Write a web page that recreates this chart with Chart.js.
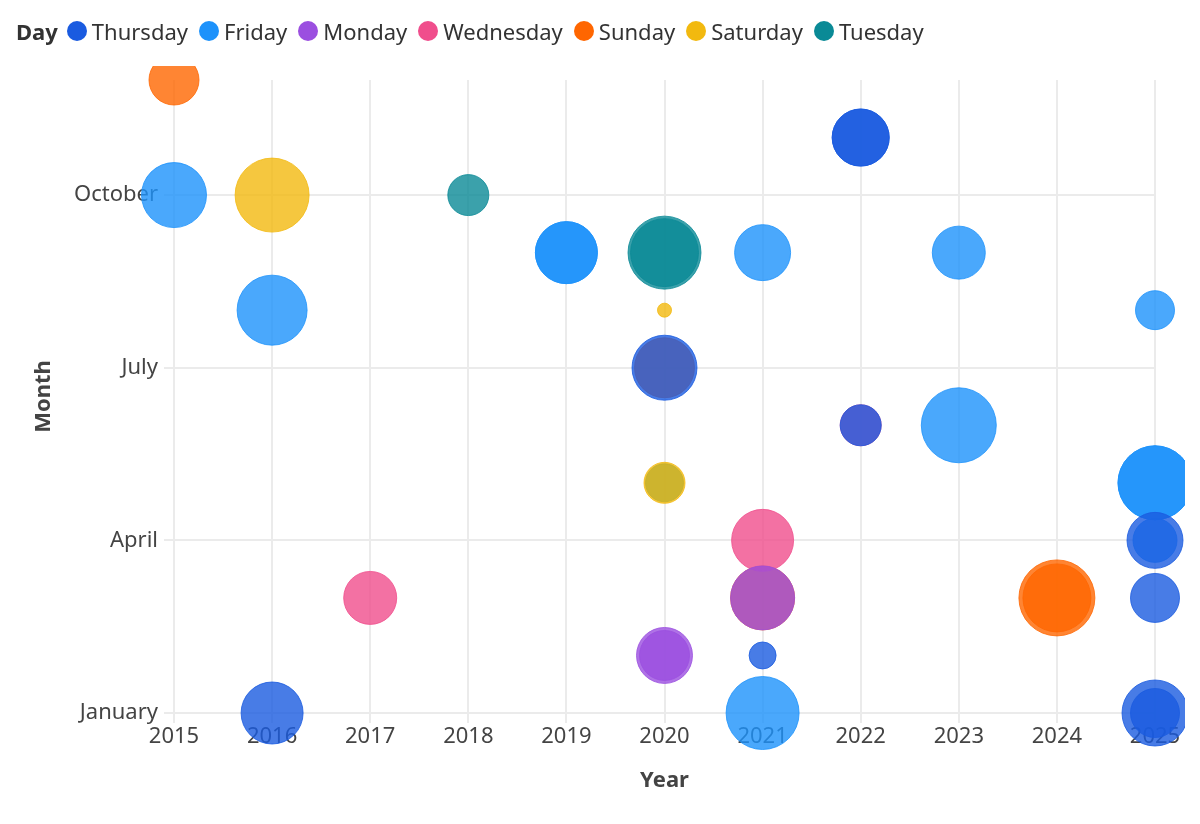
<!DOCTYPE html>
<html>
<head>
<meta charset="utf-8">
<title>Day by Month and Year</title>
<script src="https://cdn.jsdelivr.net/npm/chart.js@4.4.1/dist/chart.umd.min.js"></script>
<style>
    html, body { margin: 0; padding: 0; background: #fff; }
    #wrap { position: relative; width: 1200px; height: 824px; }
    #legend {
        position: absolute; left: 16px; top: 16px;
        display: flex; align-items: center;
        font-family: "Noto Sans", sans-serif; font-size: 22px; color: #333;
        line-height: 30px;
    }
    #legend .title { font-weight: bold; margin-right: 9px; }
    #legend .item { display: flex; align-items: center; margin-right: 11px; }
    #legend .dot { width: 20px; height: 20px; border-radius: 50%; margin-right: 5px; }
</style>
</head>
<body>
<div id="wrap">
    <canvas id="chart" width="1200" height="824"></canvas>
    <div id="legend"><span class="title">Day</span></div>
</div>
<script>
// Categorías y colores (orden de la leyenda)
const days = ['Thursday', 'Friday', 'Monday', 'Wednesday', 'Sunday', 'Saturday', 'Tuesday'];
const dayColors = ['#1a5be0', '#1d92fb', '#9b4fe0', '#f04e8c', '#ff6600', '#f2b90f', '#0a8a96'];

// Puntos por día: [año, mes, tamaño]
const thursday = [[2022, 11, 28.5], [2022, 11, 28.5], [2020, 7, 32.5], [2022, 6, 20.5], [2025, 4, 28], [2025, 3, 24.5], [2021, 2, 13.5], [2016, 1, 31], [2025, 1, 33], [2025, 1, 24.5]];
const friday = [[2015, 10, 32.5], [2019, 9, 31], [2019, 9, 31], [2021, 9, 28], [2023, 9, 26.5], [2016, 8, 35], [2025, 8, 19.5], [2023, 6, 37.5], [2025, 5, 37], [2025, 5, 37], [2025, 4, 22], [2021, 1, 36.5]];
const monday = [[2021, 3, 32], [2020, 2, 28], [2020, 2, 25]];
const wednesday = [[2021, 4, 31], [2017, 3, 26.5], [2022, 6, 20.5]];
const sunday = [[2015, 12, 25], [2024, 3, 38], [2024, 3, 34], [2020, 7, 30], [2021, 3, 32]];
const saturday = [[2016, 10, 37], [2020, 8, 7], [2020, 5, 20.5]];
const tuesday = [[2018, 10, 20.5], [2020, 9, 36.5], [2020, 9, 34], [2020, 5, 19]];
const dayPoints = [thursday, friday, monday, wednesday, sunday, saturday, tuesday];

// Ejes
const yearTicks = [2015, 2016, 2017, 2018, 2019, 2020, 2021, 2022, 2023, 2024, 2025];
const monthTicks = [1, 4, 7, 10];
const monthNames = ['January', 'February', 'March', 'April', 'May', 'June', 'July',
    'August', 'September', 'October', 'November', 'December'];

function withAlpha(hex, a) {
    const n = parseInt(hex.slice(1), 16);
    return `rgba(${(n >> 16) & 255}, ${(n >> 8) & 255}, ${n & 255}, ${a})`;
}

// Leyenda en HTML con el título "Day" en línea
const legend = document.getElementById('legend');
days.forEach((d, i) => {
    const item = document.createElement('span');
    item.className = 'item';
    const dot = document.createElement('span');
    dot.className = 'dot';
    dot.style.background = dayColors[i];
    const txt = document.createElement('span');
    txt.textContent = d;
    item.appendChild(dot);
    item.appendChild(txt);
    legend.appendChild(item);
});

const tickFont = { family: '"Noto Sans", sans-serif', size: 22 };
const titleFont = { family: '"Noto Sans", sans-serif', size: 22, weight: 'bold' };

const datasets = days.map((d, i) => ({
    label: d,
    data: dayPoints[i].map(p => ({ x: p[0], y: p[1], r: p[2] })),
    backgroundColor: withAlpha(dayColors[i], 0.8),
    borderColor: withAlpha(dayColors[i], 0.8),
    borderWidth: 1,
    clip: { left: 40, top: 14, right: 30, bottom: 60 }
}));

new Chart(document.getElementById('chart'), {
    type: 'bubble',
    data: { datasets },
    options: {
        responsive: false,
        animation: false,
        events: [],
        layout: { padding: { left: 28, top: 80, right: 45, bottom: 30 } },
        plugins: {
            legend: { display: false },
            tooltip: { enabled: false }
        },
        scales: {
            x: {
                type: 'linear',
                min: 2015,
                max: 2025,
                afterBuildTicks: s => { s.ticks = yearTicks.map(v => ({ value: v })); },
                afterFit: s => { s.height = 81; },
                ticks: { callback: v => String(v), font: tickFont, color: '#444', padding: 1, maxRotation: 0 },
                grid: { color: '#ebebeb', lineWidth: 2, tickLength: 10 },
                border: { display: false },
                title: { display: true, text: 'Year', font: titleFont, color: '#444', padding: { top: 0, bottom: 0 } }
            },
            y: {
                type: 'linear',
                min: 1,
                max: 12,
                afterBuildTicks: s => { s.ticks = monthTicks.map(v => ({ value: v })); },
                afterFit: s => { s.width = 146; },
                ticks: { callback: v => monthNames[v - 1], font: tickFont, color: '#444', padding: 6 },
                grid: { color: '#ebebeb', lineWidth: 2, tickLength: 10 },
                border: { display: false },
                title: { display: true, text: 'Month', font: titleFont, color: '#444', padding: { top: 3, bottom: 0 } }
            }
        }
    }
});
</script>
</body>
</html>
